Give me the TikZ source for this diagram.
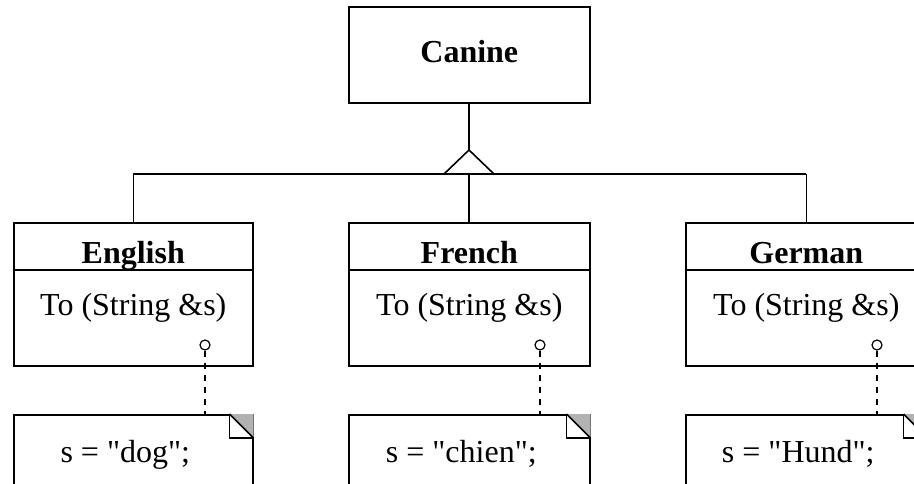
\documentclass[tikz,border=0pt]{standalone}
\usepackage{fontspec}
\setmainfont{Liberation Serif}
\begin{document}
\begin{tikzpicture}[x=1pt,y=-1pt,line width=1.6pt,
  every node/.style={font=\fontsize{32}{38}\selectfont, inner sep=0pt},
  box/.style={draw, rectangle, anchor=north west, minimum width=241pt},
  classbox/.style={box, minimum height=143pt},
  notebox/.style={box, minimum height=120pt},
  title/.style={anchor=base, font=\fontsize{32}{38}\selectfont\bfseries},
  txt/.style={anchor=base},
  port/.style={circle, draw, line width=1.2pt, minimum size=10pt, fill=white},
  dep/.style={line width=1.6pt, dash pattern=on 6pt off 6pt}]
\useasboundingbox (0,0) rectangle (914,484);
\clip (0,0) rectangle (914,484);

% superclass
\node[box, minimum height=96pt] (canine) at (348,6) {};
\node[title] (canineT) at (canine.center |- 0,63) {Canine};

% classes
\node[classbox, minimum width=239pt] (eng) at (13,222) {};
\node[classbox] (fre) at (348,222) {};
\node[classbox] (ger) at (685,222) {};

\foreach \n/\t in {eng/English, fre/French, ger/German}{
  \draw ([yshift=-48pt]\n.north west) -- ([yshift=-48pt]\n.north east);
  \node[title] (\n T) at (\n.center |- 0,263) {\t};
  \node[txt] (\n M) at (\n.center |- 0,316) {To (String \&s)};
}

% notes
\node[notebox, minimum width=239pt] (engN) at (13,414) {};
\node[notebox] (freN) at (348,414) {};
\node[notebox] (gerN) at (685,414) {};
\node[txt] (engNT) at ([xshift=-8pt]engN.center |- 0,462) {s = \textquotedbl dog\textquotedbl;};
\node[txt] (freNT) at ([xshift=-8pt]freN.center |- 0,462) {s = \textquotedbl chien\textquotedbl;};
\node[txt] (gerNT) at ([xshift=-8pt]gerN.center |- 0,462) {s = \textquotedbl Hund\textquotedbl;};
\foreach \n in {engN, freN, gerN}{
  \fill[gray!60] ([xshift=-24pt]\n.north east) -- (\n.north east) -- ([yshift=-24pt]\n.north east) -- cycle;
  \draw ([xshift=-24pt]\n.north east) -- ([xshift=-24pt,yshift=-24pt]\n.north east) -- ([yshift=-24pt]\n.north east);
  \draw ([xshift=-24pt]\n.north east) -- ([yshift=-24pt]\n.north east);
}

% ports and dependency lines
\node[port] (engC) at (205,345) {};
\node[port] (freC) at (540,345) {};
\node[port] (gerC) at (877,345) {};
\draw[dep] (engC) -- (engC |- engN.north);
\draw[dep] (freC) -- (freC |- freN.north);
\draw[dep] (gerC) -- (gerC |- gerN.north);

% generalization
\coordinate (apex) at (469,150);
\coordinate (bar) at (469,174);
\draw (canine.south -| apex) -- (apex);
\draw (apex) -- (444,174) -- (494,174) -- cycle;
\draw (eng.north |- bar) -- (ger.north |- bar);
\draw (eng.north |- bar) -- (eng.north);
\draw (bar) -- (fre.north -| bar);
\draw (ger.north |- bar) -- (ger.north);
\end{tikzpicture}
\end{document}
